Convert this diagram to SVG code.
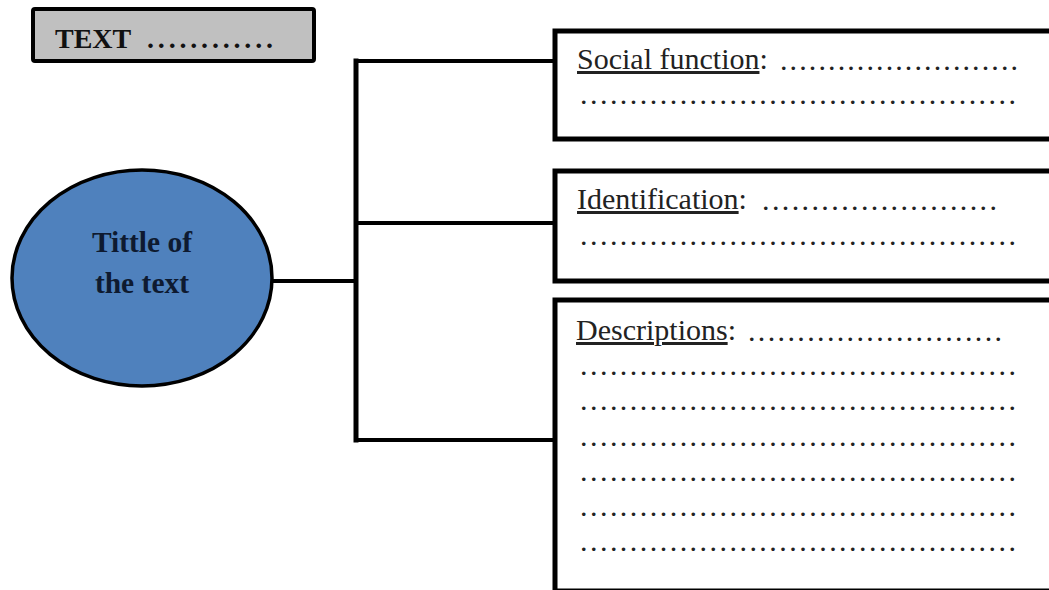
<svg xmlns="http://www.w3.org/2000/svg" width="1049" height="590" viewBox="0 0 1049 590">
<style>
.box{fill:#ffffff;stroke:#000;stroke-width:5}
.conn{stroke:#000;fill:none;stroke-linecap:square}
.lbl{font-family:"Liberation Serif","Times New Roman",serif;font-size:30px;fill:#222}
.u{text-decoration:underline}
.dots{font-family:"Liberation Serif","Times New Roman",serif;font-size:30px;fill:#222}
.bold{font-family:"Liberation Serif","Times New Roman",serif;font-size:28px;font-weight:bold;fill:#111}
.ttl{font-family:"Liberation Serif","Times New Roman",serif;font-size:29.5px;font-weight:bold;fill:#0e1a30}
</style>
<rect width="1049" height="590" fill="#ffffff"/>
<g id="connectors">
<line class="conn" x1="273" y1="281" x2="356" y2="281" stroke-width="4"/>
<line class="conn" x1="356" y1="61" x2="356" y2="440" stroke-width="5"/>
<line class="conn" x1="356" y1="61" x2="554" y2="61" stroke-width="4"/>
<line class="conn" x1="356" y1="223" x2="554" y2="223" stroke-width="4"/>
<line class="conn" x1="356" y1="440" x2="554" y2="440" stroke-width="4"/>
</g>
<g id="header">
<rect x="33" y="9" width="281" height="52" rx="2" fill="#c0c0c0" stroke="#000" stroke-width="4"/>
<text class="bold" x="55" y="48">TEXT</text>
<text class="bold" x="147" y="48" textLength="126" lengthAdjust="spacing">............</text>
</g>
<g id="title">
<ellipse cx="142" cy="278" rx="130" ry="108" fill="#4f81bd" stroke="#000" stroke-width="3.5"/>
<text class="ttl" x="142" y="252" text-anchor="middle">Tittle of</text>
<text class="ttl" x="142" y="293" text-anchor="middle">the text</text>
</g>
<g id="social">
<rect class="box" x="555" y="31" width="510" height="108"/>
<text class="lbl" x="577" y="69"><tspan class="u">Social function</tspan>:</text>
<text class="dots" x="780" y="70" textLength="238" lengthAdjust="spacing">.........................</text>
<text class="dots" x="580" y="104" textLength="436" lengthAdjust="spacing">............................................</text>
</g>
<g id="identification">
<rect class="box" x="555" y="171" width="510" height="110"/>
<text class="lbl" x="577" y="209"><tspan class="u">Identification</tspan>:</text>
<text class="dots" x="762" y="210" textLength="235" lengthAdjust="spacing">........................</text>
<text class="dots" x="580" y="245" textLength="436" lengthAdjust="spacing">............................................</text>
</g>
<g id="descriptions">
<rect class="box" x="555" y="300" width="510" height="291"/>
<text class="lbl" x="576" y="340"><tspan class="u">Descriptions</tspan>:</text>
<text class="dots" x="748" y="341" textLength="254" lengthAdjust="spacing">..........................</text>
<text class="dots" x="580" y="375" textLength="436" lengthAdjust="spacing">............................................</text>
<text class="dots" x="580" y="410" textLength="436" lengthAdjust="spacing">............................................</text>
<text class="dots" x="580" y="446" textLength="436" lengthAdjust="spacing">............................................</text>
<text class="dots" x="580" y="481" textLength="436" lengthAdjust="spacing">............................................</text>
<text class="dots" x="580" y="516" textLength="436" lengthAdjust="spacing">............................................</text>
<text class="dots" x="580" y="551" textLength="436" lengthAdjust="spacing">............................................</text>
</g>
</svg>
